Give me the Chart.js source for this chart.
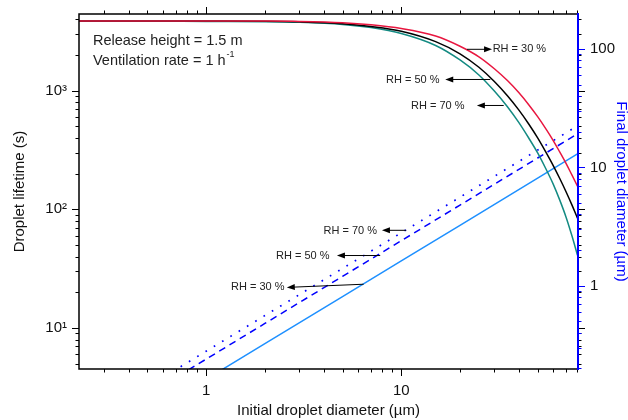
<!DOCTYPE html>
<html>
<head>
<meta charset="utf-8">
<script src="https://cdn.jsdelivr.net/npm/chart.js@4.4.1/dist/chart.umd.min.js"></script>
<style>
html, body { margin: 0; padding: 0; background: #fff; }
</style>
</head>
<body>
<canvas id="myChart" width="628" height="420"></canvas>
<script>
// droplet lifetime (s) vs initial diameter (um), left axis
var diameters    = [0.22, 0.5, 1, 2, 3, 5, 7, 10, 15, 20, 25, 30, 35, 40, 45, 50, 55, 60, 65, 70, 75, 80];
var lifetimeRH30 = [3865, 3865, 3862, 3855, 3832, 3736, 3587, 3338, 2887, 2367, 1927, 1529, 1216, 964, 762, 604, 479, 382, 303, 243, 194, 157];
var lifetimeRH50 = [3858, 3858, 3855, 3848, 3800, 3664, 3470, 3169, 2590, 2045, 1574, 1195, 906, 689, 524, 400, 305, 235, 181, 140, 108.5, 84.3];
var lifetimeRH70 = [3850, 3850, 3824, 3809, 3765, 3615, 3398, 3030, 2402, 1813, 1356, 992, 732, 540, 399, 299, 221, 164, 119, 85.5, 59.6, 41.1];

// final droplet diameter (um) vs initial diameter (um), right axis
var initDiam  = [0.5, 1, 2, 5, 10, 20, 50, 80];
var finalRH30 = [0.081, 0.162, 0.324, 0.81, 1.62, 3.24, 8.1, 13.0];
var finalRH50 = [0.12, 0.24, 0.48, 1.2, 2.4, 4.8, 12, 19.2];
var finalRH70 = [0.14, 0.28, 0.56, 1.4, 2.8, 5.6, 14, 22.4];

// tick labels
var xTickLabels = [1, 10];
var leftTickLabels = {10: '10\u00b9', 100: '10\u00b2', 1000: '10\u00b3'};
var rightTickLabels = [1, 10, 100];

// annotations (x in um, y in axis units)
var upperNotes = [
    {text: 'RH = 30 %', tail: [21.7, 2230], head: [29.2, 2230], at: [29.4, 2230], align: 'left'},
    {text: 'RH = 50 %', tail: [28.6, 1242], head: [16.8, 1242], at: [15.7, 1230], align: 'right'},
    {text: 'RH = 70 %', tail: [33.5, 750], head: [24.4, 750], at: [21.1, 745], align: 'right'}
];
var lowerNotes = [
    {text: 'RH = 70 %', tail: [10.6, 2.94], head: [7.96, 2.94], at: [7.51, 2.92], align: 'right'},
    {text: 'RH = 50 %', tail: [7.8, 1.80], head: [4.68, 1.80], at: [4.29, 1.79], align: 'right'},
    {text: 'RH = 30 %', tail: [6.41, 1.03], head: [2.59, 0.968], at: [2.52, 0.968], align: 'right'}
];
var infoLines = [
    {text: 'Release height = 1.5 m', sup: '', at: [0.263, 2620]},
    {text: 'Ventilation rate = 1 h', sup: '-1', at: [0.263, 1778]}
];

var FONT = "Arial, 'Liberation Sans', sans-serif";
var BLUE = '#0000ff';

function pts(xs, ys){
    return xs.map(function(x, i){ return {x: x, y: ys[i]}; });
}

function isPow(v, list){
    for (var i = 0; i < list.length; i++){
        if (Math.abs(v - list[i]) < 1e-6 * list[i]) return true;
    }
    return false;
}

function logTicks(min, max){
    var out = [];
    for (var e = Math.floor(Math.log10(min)); e <= Math.ceil(Math.log10(max)); e++){
        for (var m = 1; m < 10; m++){
            var v = m * Math.pow(10, e);
            if (v >= min * 0.9999 && v <= max * 1.0001) out.push({v: v, major: m === 1});
        }
    }
    return out;
}

// keep the plot frame where the reference has it
function fixBox(size, key){
    return function(sc){
        sc[key] = size;
        sc.paddingTop = 0; sc.paddingBottom = 0;
        sc.paddingLeft = 0; sc.paddingRight = 0;
    };
}

// frame and outward tick marks on all four sides
var frameTicks = {
    id: 'frameTicks',
    afterDraw: function(chart){
        var ctx = chart.ctx, a = chart.chartArea, s = chart.scales;
        ctx.save();
        ctx.lineWidth = 1;
        ctx.strokeStyle = '#000';
        ctx.beginPath();
        logTicks(s.x.min, s.x.max).forEach(function(t){
            var px = Math.round(s.x.getPixelForValue(t.v)) + 0.5;
            var len = t.major ? 7 : 3.5;
            ctx.moveTo(px, a.bottom); ctx.lineTo(px, a.bottom + len);
            ctx.moveTo(px, a.top); ctx.lineTo(px, a.top - len);
        });
        logTicks(s.y.min, s.y.max).forEach(function(t){
            var py = Math.round(s.y.getPixelForValue(t.v)) + 0.5;
            var len = t.major ? 7 : 3.5;
            ctx.moveTo(a.left, py); ctx.lineTo(a.left - len, py);
            ctx.moveTo(a.right, py); ctx.lineTo(a.right + len, py);
        });
        ctx.stroke();

        ctx.strokeStyle = BLUE;
        ctx.beginPath();
        logTicks(s.y2.min, s.y2.max).forEach(function(t){
            var py = Math.round(s.y2.getPixelForValue(t.v)) + 0.5;
            var len = t.major ? 7 : 3.5;
            ctx.moveTo(a.right, py); ctx.lineTo(a.right + len, py);
        });
        ctx.stroke();

        ctx.lineWidth = 1.5;
        ctx.strokeStyle = '#000';
        ctx.beginPath();
        ctx.moveTo(a.right, a.top); ctx.lineTo(a.left, a.top);
        ctx.lineTo(a.left, a.bottom); ctx.lineTo(a.right, a.bottom);
        ctx.stroke();
        ctx.lineWidth = 2;
        ctx.strokeStyle = BLUE;
        ctx.beginPath();
        ctx.moveTo(a.right, a.top - 1); ctx.lineTo(a.right, a.bottom + 1);
        ctx.stroke();
        ctx.restore();
    }
};

function arrow(ctx, x1, y1, x2, y2){
    var ang = Math.atan2(y2 - y1, x2 - x1);
    var hl = 8, hw = 3;
    ctx.beginPath();
    ctx.moveTo(x1, y1);
    ctx.lineTo(x2 - Math.cos(ang) * hl * 0.8, y2 - Math.sin(ang) * hl * 0.8);
    ctx.stroke();
    ctx.beginPath();
    ctx.moveTo(x2, y2);
    ctx.lineTo(x2 - Math.cos(ang) * hl - Math.sin(ang) * hw, y2 - Math.sin(ang) * hl + Math.cos(ang) * hw);
    ctx.lineTo(x2 - Math.cos(ang) * hl + Math.sin(ang) * hw, y2 - Math.sin(ang) * hl - Math.cos(ang) * hw);
    ctx.closePath();
    ctx.fill();
}

var notesPlugin = {
    id: 'notes',
    afterDraw: function(chart){
        var ctx = chart.ctx, s = chart.scales;
        ctx.save();
        ctx.strokeStyle = '#000';
        ctx.fillStyle = '#000';
        ctx.lineWidth = 1;
        function drawNote(n, yScale){
            var X = function(v){ return s.x.getPixelForValue(v); };
            var Y = function(v){ return yScale.getPixelForValue(v); };
            ctx.fillStyle = '#000';
            arrow(ctx, X(n.tail[0]), Y(n.tail[1]), X(n.head[0]), Y(n.head[1]));
            ctx.fillStyle = '#222';
            ctx.font = '11px ' + FONT;
            ctx.textAlign = n.align;
            ctx.textBaseline = 'middle';
            ctx.fillText(n.text, X(n.at[0]), Y(n.at[1]));
        }
        upperNotes.forEach(function(n){ drawNote(n, s.y); });
        lowerNotes.forEach(function(n){ drawNote(n, s.y2); });

        ctx.fillStyle = '#222';
        ctx.textAlign = 'left';
        ctx.textBaseline = 'middle';
        infoLines.forEach(function(l){
            var px = s.x.getPixelForValue(l.at[0]);
            var py = s.y.getPixelForValue(l.at[1]);
            ctx.font = '14.5px ' + FONT;
            ctx.fillText(l.text, px, py);
            if (l.sup){
                var w = ctx.measureText(l.text).width;
                ctx.font = '9px ' + FONT;
                ctx.fillText(l.sup, px + w + 1, py - 6);
            }
        });
        ctx.restore();
    }
};

function main(){
    new Chart('myChart', {
        type: 'line',
        data: {
            datasets: [
                {label: 'Lifetime RH 30', data: pts(diameters, lifetimeRH30), yAxisID: 'y',
                 borderColor: '#e8163f', borderWidth: 1.5, cubicInterpolationMode: 'monotone'},
                {label: 'Lifetime RH 50', data: pts(diameters, lifetimeRH50), yAxisID: 'y',
                 borderColor: '#000000', borderWidth: 1.5, cubicInterpolationMode: 'monotone'},
                {label: 'Lifetime RH 70', data: pts(diameters, lifetimeRH70), yAxisID: 'y',
                 borderColor: '#138a82', borderWidth: 1.5, cubicInterpolationMode: 'monotone'},
                {label: 'Final RH 30', data: pts(initDiam, finalRH30), yAxisID: 'y2',
                 borderColor: '#1e90ff', borderWidth: 1.5},
                {label: 'Final RH 50', data: pts(initDiam, finalRH50), yAxisID: 'y2',
                 borderColor: BLUE, borderWidth: 1.5, borderDash: [7, 5]},
                {label: 'Final RH 70', data: pts(initDiam, finalRH70), yAxisID: 'y2',
                 borderColor: BLUE, borderWidth: 1.7, borderDash: [1.7, 8]}
            ]
        },
        options: {
            responsive: false,
            animation: false,
            devicePixelRatio: 1,
            clip: 0,
            layout: { padding: { top: 14, left: 0, right: 0, bottom: 0 } },
            elements: { point: { radius: 0 }, line: { fill: false } },
            plugins: {
                legend: { display: false },
                tooltip: { enabled: false }
            },
            scales: {
                x: {
                    type: 'logarithmic',
                    position: 'bottom',
                    min: 0.223,
                    max: 80.5,
                    afterFit: fixBox(51, 'height'),
                    grid: { display: false, drawTicks: false },
                    border: { display: false },
                    ticks: {
                        autoSkip: false, maxRotation: 0, padding: 13, color: '#111',
                        font: { size: 15, family: FONT },
                        callback: function(v){ return isPow(v, xTickLabels) ? String(v) : ''; }
                    },
                    title: {
                        display: true, text: 'Initial droplet diameter (\u00b5m)', color: '#111',
                        font: { size: 15, family: FONT }, padding: { top: 0, bottom: 0 }
                    }
                },
                y: {
                    type: 'logarithmic',
                    position: 'left',
                    min: 4.52,
                    max: 4423,
                    afterFit: fixBox(79, 'width'),
                    grid: { display: false, drawTicks: false },
                    border: { display: false },
                    ticks: {
                        autoSkip: false, padding: 12, color: '#111',
                        font: { size: 15, family: FONT },
                        callback: function(v){
                            var k = Math.round(v);
                            return (leftTickLabels[k] && Math.abs(v - k) < 1e-6) ? leftTickLabels[k] : '';
                        }
                    },
                    title: {
                        display: true, text: 'Droplet lifetime (s)', color: '#111',
                        font: { size: 15, family: FONT }, padding: { top: 11, bottom: 0 }
                    }
                },
                y2: {
                    type: 'logarithmic',
                    position: 'right',
                    min: 0.198,
                    max: 197.5,
                    afterFit: fixBox(50, 'width'),
                    grid: { display: false, drawTicks: false },
                    border: { display: false },
                    ticks: {
                        autoSkip: false, padding: 12, color: '#111',
                        font: { size: 15, family: FONT },
                        callback: function(v){ return isPow(v, rightTickLabels) ? String(v) : ''; }
                    },
                    title: {
                        display: true, text: 'Final droplet diameter (\u00b5m)', color: BLUE,
                        font: { size: 15, family: FONT, lineHeight: 1 }, padding: { top: -1, bottom: 0 }
                    }
                }
            }
        },
        plugins: [frameTicks, notesPlugin]
    });
}
main();
</script>
</body>
</html>
